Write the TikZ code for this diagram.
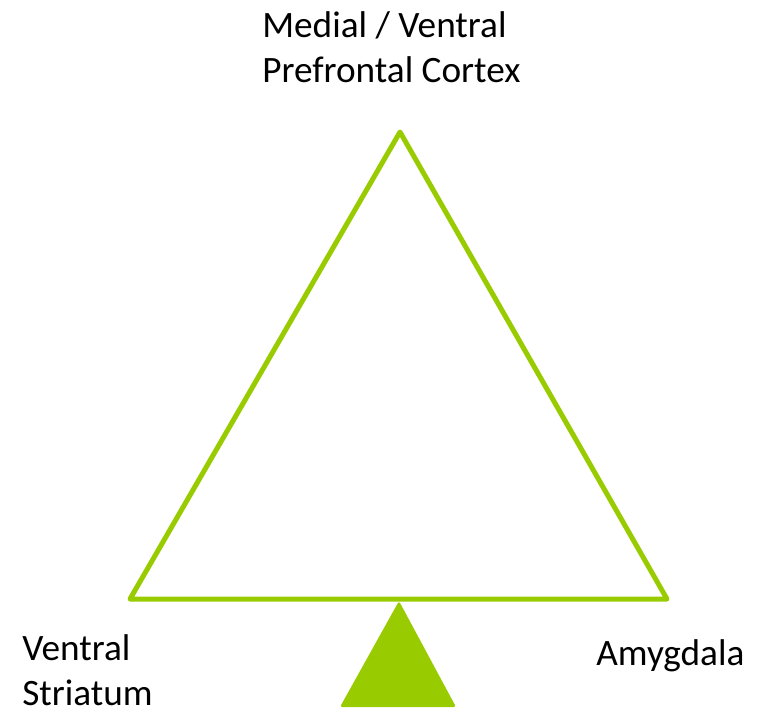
\documentclass[tikz,border=0pt]{standalone}
\usepackage{fontspec}
\setmainfont{Carlito}
\definecolor{leafgreen}{HTML}{99CC00}
\tikzset{
  region/.style={font=\fontsize{21.2}{25.5}\selectfont, align=left, inner sep=0pt},
  edge/.style={draw=leafgreen, line width=0.1cm, line join=round}
}
\begin{document}
\begin{tikzpicture}[x=0.02cm, y=-0.02cm]
   \useasboundingbox (0,0) rectangle (758,714);
   \coordinate (top) at (400,132);
   \coordinate (left) at (130,599);
   \coordinate (right) at (667,599);
   \draw[edge] (top) -- (left) -- (right) -- cycle;
   \fill[leafgreen, rounded corners=1pt] (399,601) -- (456,707) -- (340,707) -- cycle;
   \node[region, anchor=base west] (pfc) at (262,82) {Medial / Ventral\\Prefrontal Cortex};
   \node[region, anchor=base west] (vs) at (22,705) {Ventral\\Striatum};
   \node[region, anchor=base west] (amy) at (596,665) {Amygdala};
\end{tikzpicture}
\end{document}
